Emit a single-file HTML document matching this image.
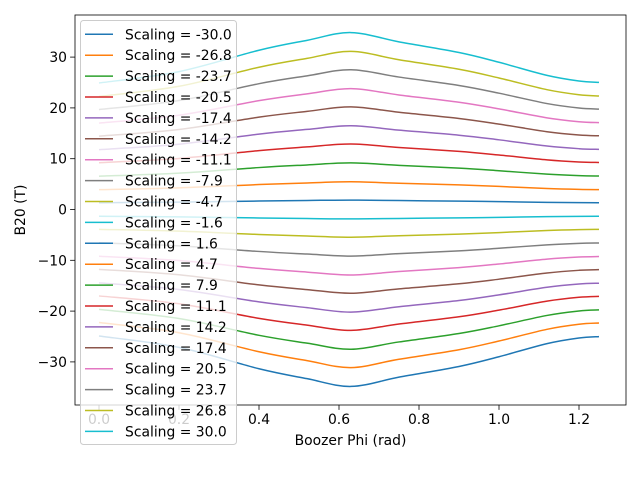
<!DOCTYPE html>
<html><head><meta charset="utf-8"><style>
body{margin:0;background:#fff;}
svg{display:block;font-family:"DejaVu Sans","Liberation Sans",sans-serif;}
</style></head><body>
<svg id="chart" width="640" height="480" viewBox="0 0 640 480" xmlns="http://www.w3.org/2000/svg">
<rect x="0" y="0" width="640" height="480" fill="#fff"/>
<g id="plot"></g>
<g id="axes"></g>
<g id="legend"></g>
</svg>
<script>
const scalings = [-30.0,-26.8,-23.7,-20.5,-17.4,-14.2,-11.1,-7.9,-4.7,-1.6,1.6,4.7,7.9,11.1,14.2,17.4,20.5,23.7,26.8,30.0];
const phiValues = [0,0.2,0.4,0.52,0.63,0.75,0.9,1.0,1.12,1.2,1.25];
const shapeValues = [0.83,0.905,1.045,1.11,1.161,1.10,1.03,0.966,0.88,0.843,0.834];
const xTicks = [0.0,0.2,0.4,0.6,0.8,1.0,1.2];
const xTickLabels = ["0.0","0.2","0.4","0.6","0.8","1.0","1.2"];
const yTicks = [-30,-20,-10,0,10,20,30];
const yTickLabels = ["\u221230","\u221220","\u221210","0","10","20","30"];
const colors = ["#1f77b4","#ff7f0e","#2ca02c","#d62728","#9467bd","#8c564b","#e377c2","#7f7f7f","#bcbd22","#17becf"];

const L=75,R=626,T=15,B=405;
const xs = v => 99 + v*400;
const ys = v => 209.5 - v*5.08;
const NS="http://www.w3.org/2000/svg";
function mk(tag,attrs,parent){const e=document.createElementNS(NS,tag);for(const k in attrs)e.setAttribute(k,attrs[k]);parent.appendChild(e);return e;}

const plot=document.getElementById('plot');
function pathFor(pts){
  let d=`M${pts[0][0]},${pts[0][1]}`;
  for(let i=0;i<pts.length-1;i++){
    const p0=pts[Math.max(0,i-1)],p1=pts[i],p2=pts[i+1],p3=pts[Math.min(pts.length-1,i+2)];
    const c1=[p1[0]+(p2[0]-p0[0])/6,p1[1]+(p2[1]-p0[1])/6];
    const c2=[p2[0]-(p3[0]-p1[0])/6,p2[1]-(p3[1]-p1[1])/6];
    d+=` C${c1[0]},${c1[1]} ${c2[0]},${c2[1]} ${p2[0]},${p2[1]}`;
  }
  return d;
}
scalings.forEach((s,i)=>{
  const pts=phiValues.map((p,j)=>[xs(p),ys(s*shapeValues[j])]);
  const el=mk('path',{d:pathFor(pts),fill:'none',stroke:colors[i%10],'stroke-width':1.5},plot);
  
  
});

const axes=document.getElementById('axes');
const frame=mk('rect',{x:L,y:T,width:R-L,height:B-T,fill:'none',stroke:'#000','stroke-width':0.8},axes);


xTicks.forEach((v,i)=>{
  const x=xs(v);
  mk('line',{x1:x,y1:B,x2:x,y2:B+4.9,stroke:'#000','stroke-width':0.8},axes);
  const t=mk('text',{x:x,y:B+19,'text-anchor':'middle','font-size':'13.9px',fill:'#000'},axes);
  t.textContent=xTickLabels[i];
  
  
});
yTicks.forEach((v,i)=>{
  const y=ys(v);
  mk('line',{x1:L,y1:y,x2:L-4.9,y2:y,stroke:'#000','stroke-width':0.8},axes);
  const t=mk('text',{x:L-8,y:y+5,'text-anchor':'end','font-size':'13.9px',fill:'#000'},axes);
  t.textContent=yTickLabels[i];
  
  
});
const xl=mk('text',{x:(L+R)/2,y:445,'text-anchor':'middle','font-size':'13.9px'},axes);
xl.textContent='Boozer Phi (rad)';


const yl=mk('text',{x:0,y:0,'text-anchor':'middle','font-size':'13.9px',transform:`translate(25,${(T+B)/2}) rotate(-90)`},axes);
yl.textContent='B20 (T)';



const lg=document.getElementById('legend');
const box=mk('rect',{x:80.5,y:20.5,width:156,height:424,rx:3,fill:'#fff','fill-opacity':0.8,stroke:'#ccc','stroke-width':1},lg);


scalings.forEach((s,i)=>{
  const y=34.3+i*20.9;
  const g=mk('g',{},lg);
  
  
  mk('line',{x1:85,y1:y,x2:113,y2:y,stroke:colors[i%10],'stroke-width':1.5},g);
  const t=mk('text',{x:125,y:y+5,'font-size':'13.9px',fill:'#000'},g);
  t.textContent='Scaling = '+s.toFixed(1);
});
</script>
</body></html>
